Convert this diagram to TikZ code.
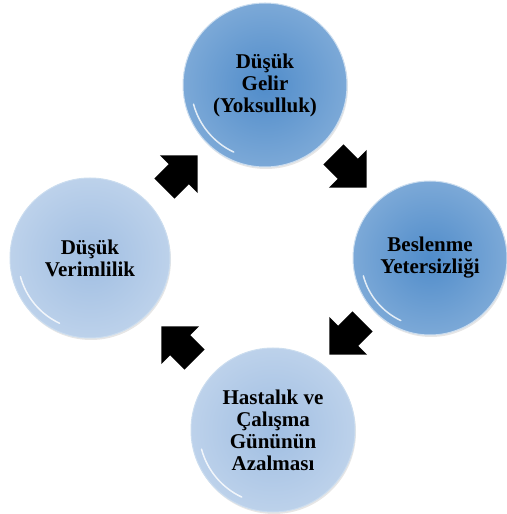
\documentclass[tikz,border=0pt]{standalone}
\usepackage{fontspec}
\setmainfont{Liberation Serif}
\usetikzlibrary{shapes.arrows,shadows}

\definecolor{darkball}{RGB}{80,140,202}
\definecolor{lightball}{RGB}{160,190,226}

\begin{document}
\begin{tikzpicture}[x=1pt,y=1pt]
    \tikzstyle{ball}=[circle,draw=white!70!darkball,line width=1pt,inner sep=0pt,align=center,
        font=\fontsize{21}{22}\selectfont\bfseries,
        drop shadow={opacity=0.2,shadow xshift=1pt,shadow yshift=-2pt}]
    \tikzstyle{dark ball}=[ball,inner color=darkball,outer color=darkball!75!white]
    \tikzstyle{light ball}=[ball,inner color=lightball,outer color=lightball!70!white]
    \tikzstyle{cycle arrow}=[single arrow,fill=black,inner xsep=0pt,inner ysep=14pt,
        minimum height=47pt,single arrow head extend=12.5pt]
    \tikzstyle{gloss}=[white,line width=1.5pt,opacity=0.8,line cap=round]

    \useasboundingbox (0,0) rectangle (506,514);

    % The four stages of the cycle
    \node[dark ball, minimum size=164pt] (gelir) at (265,429) {Düşük\\Gelir\\(Yoksulluk)};
    \node[dark ball, minimum size=154pt] (beslenme) at (430,256) {Beslenme\\Yetersizliği};
    \node[light ball, minimum size=164pt] (hastalik) at (273,84) {Hastalık ve\\Çalışma\\Gününün\\Azalması};
    \node[light ball, minimum size=160pt] (verim) at (90,256) {Düşük\\Verimlilik};

    % Glossy reflections
    \foreach \ball / \r in {gelir/74,beslenme/69,hastalik/74,verim/72}
        \draw[gloss] (\ball.center) ++(195:\r) arc[start angle=195,end angle=245,radius=\r];

    % Arrows between the stages
    \node[cycle arrow, rotate=45] (a-1) at (176,337) {};
    \node[cycle arrow, rotate=-45] (a-2) at (345,348) {};
    \node[cycle arrow, rotate=-135] (a-3) at (351,181) {};
    \node[cycle arrow, rotate=135] (a-4) at (183,166) {};
\end{tikzpicture}
\end{document}
